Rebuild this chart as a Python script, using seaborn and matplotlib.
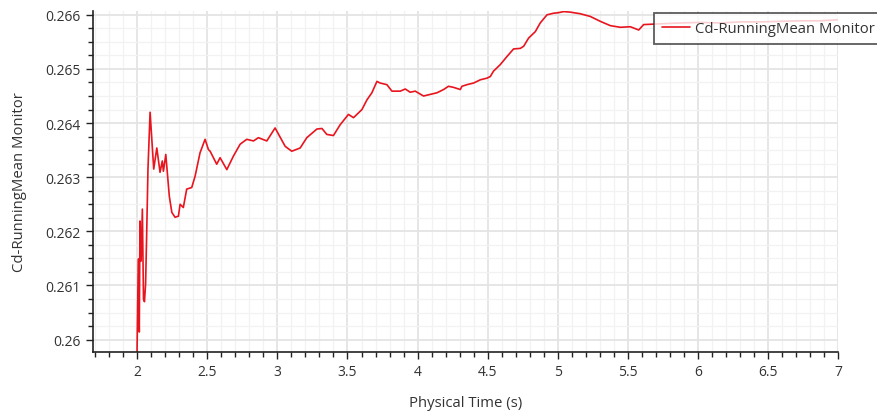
import pandas as pd
import matplotlib
matplotlib.use("Agg")
import matplotlib.pyplot as plt
from matplotlib.ticker import MultipleLocator, FuncFormatter
import seaborn as sns

# Values
time_s = [2.000, 2.009, 2.016, 2.021, 2.029, 2.038, 2.046, 2.053, 2.061, 2.068,
          2.078, 2.093, 2.119, 2.141, 2.164, 2.180, 2.188, 2.205, 2.230, 2.248,
          2.271, 2.295, 2.307, 2.330, 2.354, 2.390, 2.414, 2.449, 2.485, 2.509,
          2.521, 2.568, 2.592, 2.640, 2.687, 2.735, 2.782, 2.830, 2.865, 2.925,
          2.984, 3.056, 3.103, 3.163, 3.210, 3.282, 3.318, 3.353, 3.400, 3.448,
          3.507, 3.543, 3.603, 3.639, 3.674, 3.710, 3.733, 3.781, 3.817, 3.876,
          3.912, 3.947, 3.983, 4.042, 4.090, 4.138, 4.185, 4.220, 4.256, 4.304,
          4.316, 4.352, 4.399, 4.447, 4.494, 4.518, 4.541, 4.589, 4.637, 4.684,
          4.732, 4.756, 4.791, 4.839, 4.874, 4.922, 4.969, 5.005, 5.041, 5.088,
          5.160, 5.231, 5.302, 5.374, 5.445, 5.516, 5.576, 5.611, 5.695, 5.873,
          6.016, 6.159, 6.301, 6.444, 6.586, 6.729, 6.872, 7.000]
cd_mean = [0.25975, 0.26149, 0.26014, 0.26219, 0.26145, 0.26241, 0.26075, 0.26070, 0.26103, 0.26186,
           0.26315, 0.26420, 0.26315, 0.26354, 0.26309, 0.26330, 0.26311, 0.26342, 0.26265, 0.26235,
           0.26226, 0.26228, 0.26250, 0.26244, 0.26278, 0.26281, 0.26302, 0.26345, 0.26370, 0.26351,
           0.26348, 0.26324, 0.26336, 0.26314, 0.26339, 0.26361, 0.26370, 0.26367, 0.26373, 0.26367,
           0.26391, 0.26357, 0.26348, 0.26354, 0.26373, 0.26389, 0.26390, 0.26379, 0.26377, 0.26397,
           0.26416, 0.26410, 0.26425, 0.26443, 0.26456, 0.26477, 0.26474, 0.26471, 0.26459, 0.26459,
           0.26463, 0.26457, 0.26459, 0.26450, 0.26453, 0.26456, 0.26462, 0.26468, 0.26466, 0.26462,
           0.26468, 0.26471, 0.26474, 0.26480, 0.26483, 0.26486, 0.26496, 0.26508, 0.26523, 0.26537,
           0.26538, 0.26542, 0.26557, 0.26569, 0.26585, 0.26600, 0.26603, 0.26604, 0.26606, 0.26605,
           0.26602, 0.26597, 0.26588, 0.26580, 0.26577, 0.26578, 0.26572, 0.26582, 0.26583, 0.26585,
           0.26586, 0.26585, 0.26587, 0.26587, 0.26588, 0.26589, 0.26589, 0.26591]

df = pd.DataFrame({"time": time_s, "cd": cd_mean})

sns.set_style("whitegrid")
plt.rcParams['font.family'] = ['Open Sans', 'DejaVu Sans']

fig = plt.figure(figsize=(8.77, 4.14), dpi=100)
ax = fig.add_axes([0.1057, 0.1473, 0.8504, 0.8249])

sns.lineplot(data=df, x="time", y="cd", ax=ax, color="#e8141e", linewidth=1.2,
             estimator=None, sort=False, label="Cd-RunningMean Monitor")

ax.set_xlim(1.684, 7.0)
ax.set_ylim(0.25977, 0.26608)

ax.xaxis.set_major_locator(MultipleLocator(0.5))
ax.xaxis.set_minor_locator(MultipleLocator(0.1))
ax.yaxis.set_major_locator(MultipleLocator(0.001))
ax.yaxis.set_minor_locator(MultipleLocator(0.00025))
fmt = FuncFormatter(lambda v, p: "%g" % round(v, 6))
ax.xaxis.set_major_formatter(fmt)
ax.yaxis.set_major_formatter(fmt)

ax.grid(which="major", color="#e4e4e4", linewidth=1.3)
ax.grid(which="minor", color="#f2f2f2", linewidth=0.9)
ax.set_axisbelow(True)

for side in ["top", "right"]:
    ax.spines[side].set_visible(False)
for side in ["left", "bottom"]:
    ax.spines[side].set_color("#222222")
    ax.spines[side].set_linewidth(1.2)

ax.tick_params(which="both", direction="out", color="#222222", width=1.0,
               labelsize=10, labelcolor="#333333", left=True, bottom=True)
ax.tick_params(which="major", length=5)
ax.tick_params(which="minor", length=3.5)

ax.set_xlabel("Physical Time (s)", fontsize=10.7, color="#333333", labelpad=12)
ax.set_ylabel("Cd-RunningMean Monitor", fontsize=10.7, color="#333333", labelpad=13)

# legend box runs off the right edge like the original
leg = ax.legend(loc="upper left", bbox_to_anchor=(654 / 877, 1 - 14 / 414),
                bbox_transform=fig.transFigure, borderaxespad=0, fontsize=10.7,
                fancybox=False, framealpha=0.8, edgecolor="#333333",
                handlelength=1.9, handletextpad=0.3, borderpad=0.55)
leg.get_frame().set_linewidth(1.3)
for t in leg.get_texts():
    t.set_color("#333333")

fig.savefig("out.png", dpi=100)
